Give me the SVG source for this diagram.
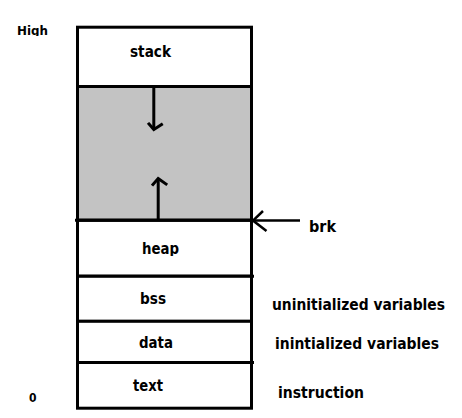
<svg xmlns="http://www.w3.org/2000/svg" width="462" height="418" viewBox="0 0 462 418">
<style>
.seg{fill:#fff;stroke:#000;stroke-width:3}
.gap{fill:#c3c3c3;stroke:#000;stroke-width:3}
.ln{stroke:#000;stroke-width:3;fill:none}
.ar{stroke:#000;stroke-width:3;fill:none;stroke-linecap:square}
.t{font-family:"DejaVu Sans","Verdana",sans-serif;font-weight:bold;font-size:15.5px;fill:#000}
.s{font-family:"DejaVu Sans","Verdana",sans-serif;font-weight:bold;font-size:12px;fill:#000}
</style>
<defs>
<clipPath id="cHigh"><rect x="0" y="0" width="60" height="36"/></clipPath>
<clipPath id="cHeap"><rect x="100" y="230" width="120" height="26"/></clipPath>
</defs>
<rect width="462" height="418" fill="#fff"/>
<g id="stack">
<rect class="seg" x="77.5" y="27.2" width="174" height="59.3"/>
<text class="t" x="130" y="57" textLength="41" lengthAdjust="spacingAndGlyphs">stack</text>
</g>
<g id="free">
<rect class="gap" x="77.5" y="86.5" width="174" height="133.8"/>
</g>
<g id="heap">
<rect class="seg" x="77.5" y="220.3" width="174" height="56"/>
<line class="ln" x1="75" y1="220.3" x2="253" y2="220.3"/>
<line class="ln" x1="77.5" y1="276.3" x2="254" y2="276.3"/>
<text class="t" x="142" y="254" textLength="37" lengthAdjust="spacingAndGlyphs" clip-path="url(#cHeap)">heap</text>
</g>
<g id="bss">
<rect class="seg" x="77.5" y="276.3" width="174" height="45"/>
<text class="t" x="140" y="304" textLength="26" lengthAdjust="spacingAndGlyphs">bss</text>
</g>
<g id="data">
<rect class="seg" x="77.5" y="321.3" width="174" height="41.2"/>
<line class="ln" x1="77.5" y1="362.5" x2="254" y2="362.5"/>
<text class="t" x="139" y="348" textLength="34" lengthAdjust="spacingAndGlyphs">data</text>
</g>
<g id="text">
<rect class="seg" x="77.5" y="362.5" width="174" height="45.7"/>
<text class="t" x="133" y="391" textLength="30" lengthAdjust="spacingAndGlyphs">text</text>
</g>
<g id="labels">
<text class="s" x="17" y="34.5" textLength="31" lengthAdjust="spacingAndGlyphs" clip-path="url(#cHigh)">High</text>
<text class="s" x="29" y="402" textLength="7.5" lengthAdjust="spacingAndGlyphs">0</text>
<text class="t" x="309" y="232" textLength="27" lengthAdjust="spacingAndGlyphs">brk</text>
<text class="t" x="272" y="310" textLength="173" lengthAdjust="spacingAndGlyphs">uninitialized variables</text>
<text class="t" x="275" y="349" textLength="164" lengthAdjust="spacingAndGlyphs">inintialized variables</text>
<text class="t" x="278" y="398" textLength="86" lengthAdjust="spacingAndGlyphs">instruction</text>
</g>
<g id="connectors">
<line class="ln" x1="153.8" y1="88" x2="153.8" y2="129"/>
<polyline class="ar" points="149,124 153.8,129.5 161.5,124.5"/>
<line class="ln" x1="158.2" y1="219" x2="158.2" y2="179"/>
<polyline class="ar" points="153,184.5 158.2,178.5 166,184"/>
<line stroke="#000" stroke-width="2.5" x1="252" y1="220.6" x2="300" y2="220.6"/>
<polyline fill="none" stroke="#000" stroke-width="2.5" points="263,211 253,220.6 266.5,231"/>
</g>
</svg>
